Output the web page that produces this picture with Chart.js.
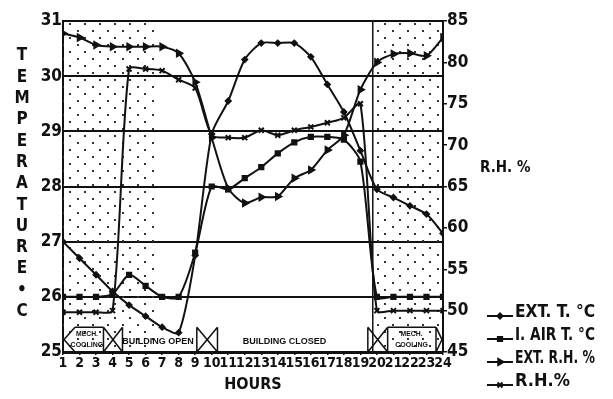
<!DOCTYPE html>
<html>
<head>
<meta charset="utf-8">
<script src="https://cdn.jsdelivr.net/npm/chart.js@4.4.1/dist/chart.umd.min.js"></script>
<style>
  body { margin: 0; background: #fff; }
  canvas { display: block; }
</style>
</head>
<body>
<canvas id="chart" width="613" height="399"></canvas>
<script>
// hours of the day
const hours = [1, 2, 3, 4, 5, 6, 7, 8, 9, 10, 11, 12, 13, 14, 15, 16, 17, 18, 19, 20, 21, 22, 23, 24];

// temperatures, deg C (left axis)
const extTemp = [27.0, 26.7, 26.4, 26.1, 25.85, 25.65, 25.45, 25.35, 26.75, 28.95, 29.55, 30.3,
                 30.6, 30.6, 30.6, 30.35, 29.85, 29.35, 28.65, 27.95, 27.8, 27.65, 27.5, 27.15];
const airTemp = [26.0, 26.0, 26.0, 26.05, 26.4, 26.2, 26.0, 26.0, 26.8, 28.0, 27.95, 28.15,
                 28.35, 28.6, 28.8, 28.9, 28.9, 28.85, 28.45, 26.0, 26.0, 26.0, 26.0, 26.0];

// relative humidity, % (right axis)
const extRH = [83.5, 83.0, 82.1, 81.9, 81.9, 81.9, 81.9, 81.1, 77.6, 70.9, 64.8, 63.0,
               63.7, 63.8, 66.0, 67.0, 69.4, 71.2, 76.7, 80.0, 81.0, 81.1, 80.8, 83.0];
const roomRH = [49.8, 49.8, 49.8, 50.0, 79.2, 79.2, 79.0, 77.9, 76.9, 71.2, 70.9, 70.9,
                71.8, 71.2, 71.8, 72.2, 72.7, 73.3, 75.0, 50.0, 50.0, 50.0, 50.0, 50.0];

const seriesNames = ['EXT. T. \u00B0C', 'I. AIR T. \u00B0C', 'EXT. R.H. %', 'R.H.%'];

// stippled spans (mechanical cooling), in hours
const shadeSpans = [[1, 6.55], [19.75, 24]];
// notes in the strip along the bottom
const notes = [
  { at: 2.45, lines: ['MECH.', 'COOLING'] },
  { at: 6.75, lines: ['BUILDING OPEN'] },
  { at: 14.4, lines: ['BUILDING CLOSED'] },
  { at: 22.1, lines: ['MECH.', 'COOLING'] }
];
const changeMarks = [[3.45, 4.6], [9.1, 10.35], [19.45, 20.65]];
const stripTop = 25.45; // deg C

const FONT = "'Liberation Sans Narrow', 'DejaVu Sans Condensed', 'Liberation Sans', sans-serif";
const INK = '#111';

function dotPattern(ctx) {
  const c = document.createElement('canvas');
  c.width = 15; c.height = 14;
  const p = c.getContext('2d');
  p.fillStyle = '#333';
  p.fillRect(2, 2, 2, 2);
  p.fillRect(9, 9, 2, 2);
  return ctx.createPattern(c, 'repeat');
}

const sheet = {
  id: 'sheet',
  beforeDatasetsDraw(chart) {
    const { ctx, chartArea: a, scales: { x } } = chart;
    ctx.save();
    ctx.fillStyle = dotPattern(ctx);
    shadeSpans.forEach(s => {
      const x0 = x.getPixelForValue(s[0]), x1 = x.getPixelForValue(s[1]);
      ctx.fillRect(x0, a.top, x1 - x0, a.bottom - a.top);
    });
    // edge of the evening cooling span
    ctx.strokeStyle = INK;
    ctx.lineWidth = 1.5;
    const xe = x.getPixelForValue(shadeSpans[1][0]);
    ctx.beginPath(); ctx.moveTo(xe, a.top); ctx.lineTo(xe, a.bottom); ctx.stroke();
    ctx.restore();
  },
  afterDraw(chart) {
    const { ctx, chartArea: a, scales: { x, y } } = chart;
    const top = y.getPixelForValue(stripTop), bot = a.bottom;
    ctx.save();
    ctx.strokeStyle = INK;
    ctx.fillStyle = INK;
    ctx.lineWidth = 1.5;

    // bow ties where the building changes state
    changeMarks.forEach(m => {
      const x0 = x.getPixelForValue(m[0]), x1 = x.getPixelForValue(m[1]);
      ctx.beginPath();
      ctx.moveTo(x0, top); ctx.lineTo(x0, bot);
      ctx.moveTo(x1, top); ctx.lineTo(x1, bot);
      ctx.moveTo(x0, top); ctx.lineTo(x1, bot);
      ctx.moveTo(x1, top); ctx.lineTo(x0, bot);
      ctx.stroke();
    });
    // arrow heads at the two ends
    const xl = x.getPixelForValue(1), xr = x.getPixelForValue(24);
    ctx.beginPath();
    ctx.moveTo(xl + 12, top); ctx.lineTo(xl + 1, (top + bot) / 2); ctx.lineTo(xl + 12, bot);
    ctx.moveTo(xl + 12, top); ctx.lineTo(x.getPixelForValue(changeMarks[0][0]), top);
    ctx.moveTo(x.getPixelForValue(changeMarks[2][1]), top); ctx.lineTo(xr - 7, top);
    ctx.moveTo(xr - 7, top); ctx.lineTo(xr - 7, bot);
    ctx.moveTo(xr - 7, top); ctx.lineTo(xr - 1, (top + bot) / 2); ctx.lineTo(xr - 7, bot);
    ctx.stroke();

    ctx.textAlign = 'center';
    ctx.textBaseline = 'middle';
    notes.forEach(n => {
      const cx = x.getPixelForValue(n.at);
      if (n.lines.length === 1) {
        ctx.font = "bold 9px 'Liberation Sans', sans-serif";
        ctx.fillText(n.lines[0], cx, (top + bot) / 2 + 2, n.lines[0].length * 6);
      } else {
        ctx.font = "bold 7px 'Liberation Sans', sans-serif";
        ctx.fillText(n.lines[0], cx, top + 7, 22);
        ctx.fillText(n.lines[1], cx, top + 18, 34);
      }
    });

    // left title, one letter under the other
    ctx.font = 'bold 17px ' + FONT;
    'TEMPERATURE\u2022C'.split('').forEach((ch, i) => {
      ctx.fillText(ch, 22, 56 + i * 21.3);
    });
    // right title
    ctx.font = 'bold 15px ' + FONT;
    ctx.textAlign = 'left';
    ctx.fillText('R.H. %', 480, 168);

    // legend
    ctx.font = 'bold 18px ' + FONT;
    chart.data.datasets.forEach((ds, i) => {
      const ly = 312 + i * 23;
      ctx.lineWidth = 2;
      ctx.beginPath(); ctx.moveTo(487, ly + 4); ctx.lineTo(513, ly + 4); ctx.stroke();
      Chart.helpers.drawPoint(ctx, {
        pointStyle: ds.pointStyle, radius: ds.pointRadius, rotation: ds.pointRotation || 0, borderWidth: 1.5
      }, 500, ly + 4);
      ctx.fillText(ds.label, 515, ly, 80);
    });
    ctx.restore();
  }
};

function line(label, data, axis, style, radius, rotation) {
  return {
    label: label,
    data: data.map((v, i) => ({ x: hours[i], y: v })),
    yAxisID: axis,
    borderColor: INK,
    backgroundColor: INK,
    borderWidth: 2,
    pointStyle: style,
    pointRadius: radius,
    pointRotation: rotation || 0,
    pointBackgroundColor: INK,
    pointBorderColor: INK,
    tension: 0.25
  };
}

new Chart(document.getElementById('chart'), {
  type: 'line',
  data: {
    datasets: [
      line(seriesNames[0], extTemp, 'y', 'rectRot', 2.5),
      line(seriesNames[1], airTemp, 'y', 'rect', 3),
      line(seriesNames[2], extRH, 'y1', 'triangle', 3.5, 90),
      line(seriesNames[3], roomRH, 'y1', 'crossRot', 3.5)
    ]
  },
  options: {
    responsive: false,
    animation: false,
    layout: { padding: { top: 21, left: 0, right: 0, bottom: 0 } },
    plugins: { legend: { display: false }, tooltip: { enabled: false } },
    scales: {
      x: {
        type: 'linear', min: 1, max: 24,
        afterFit: s => { s.height = 47; },
        afterBuildTicks: s => { s.ticks = hours.map(h => ({ value: h })); },
        grid: { drawOnChartArea: false, color: INK, tickLength: 3, lineWidth: 1.5 },
        border: { color: INK, width: 3 },
        ticks: { autoSkip: false, maxRotation: 0, padding: 0, color: INK,
                 font: { family: FONT, size: 14, weight: 'bold' } },
        title: { display: true, text: 'HOURS', color: INK, padding: { top: 0, bottom: 5 },
                 font: { family: FONT, size: 16, weight: 'bold' } }
      },
      y: {
        position: 'left', min: 25, max: 31,
        afterFit: s => { s.width = 63; },
        grid: { color: INK, lineWidth: 2, drawTicks: false },
        border: { color: INK, width: 2 },
        ticks: { stepSize: 1, padding: 1, color: INK,
                 font: { family: FONT, size: 17, weight: 'bold' } }
      },
      y1: {
        position: 'right', min: 45, max: 85,
        afterFit: s => { s.width = 170; },
        grid: { drawOnChartArea: false, color: INK, tickLength: 4, lineWidth: 1.5 },
        border: { color: INK, width: 2 },
        ticks: { stepSize: 5, padding: 0, color: INK,
                 font: { family: FONT, size: 17, weight: 'bold' } }
      }
    }
  },
  plugins: [sheet]
});
</script>
</body>
</html>
